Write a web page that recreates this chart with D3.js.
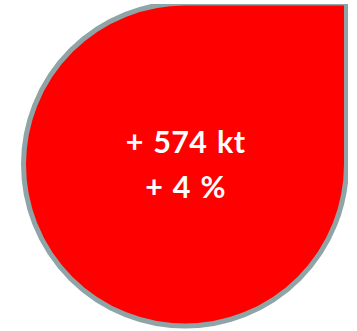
<!DOCTYPE html>
<html>
<head>
<meta charset="utf-8">
<script src="https://cdn.jsdelivr.net/npm/d3@7"></script>
<style>
  html, body { margin: 0; padding: 0; background: #ffffff; }
  svg { display: block; }
</style>
</head>
<body>
<div id="chart"></div>
<script>
// Change figures shown inside the drop
const changeValues = [574, 4];
const changeUnits = ["kt", "%"];
const changeSigns = ["+", "+"];

const width = 357, height = 331;
const cx = 185, cy = 164.5, r = 161.5;

const svg = d3.select("#chart").append("svg")
  .attr("width", width)
  .attr("height", height);

svg.append("defs").append("clipPath").attr("id", "frame")
  .append("rect").attr("x", 0).attr("y", 4).attr("width", 348).attr("height", height - 4);

// Drop shape: circle with a square top-right corner
const p = d3.path();
p.moveTo(cx, cy - r);
p.lineTo(cx + r, cy - r);
p.lineTo(cx + r, cy);
p.arc(cx, cy, r, 0, 1.5 * Math.PI);
p.closePath();

svg.append("g").attr("clip-path", "url(#frame)")
  .append("path")
  .attr("d", p.toString())
  .attr("fill", "#ff0000")
  .attr("stroke", "#8fa4a6")
  .attr("stroke-width", 5);

const lines = changeValues.map((v, i) => `${changeSigns[i]} ${v} ${changeUnits[i]}`);
const lineY = d3.scalePoint().domain(d3.range(lines.length)).range([153, 198]);

svg.selectAll("text.change")
  .data(lines)
  .join("text")
  .attr("class", "change")
  .attr("x", cx + 0.5)
  .attr("y", (d, i) => lineY(i))
  .attr("text-anchor", "middle")
  .attr("fill", "#ffffff")
  .attr("font-family", "Lato, 'Open Sans', sans-serif")
  .attr("font-weight", "bold")
  .attr("font-size", 30.5)
  .attr("word-spacing", 2)
  .attr("letter-spacing", 0.3)
  .text(d => d);
</script>
</body>
</html>
